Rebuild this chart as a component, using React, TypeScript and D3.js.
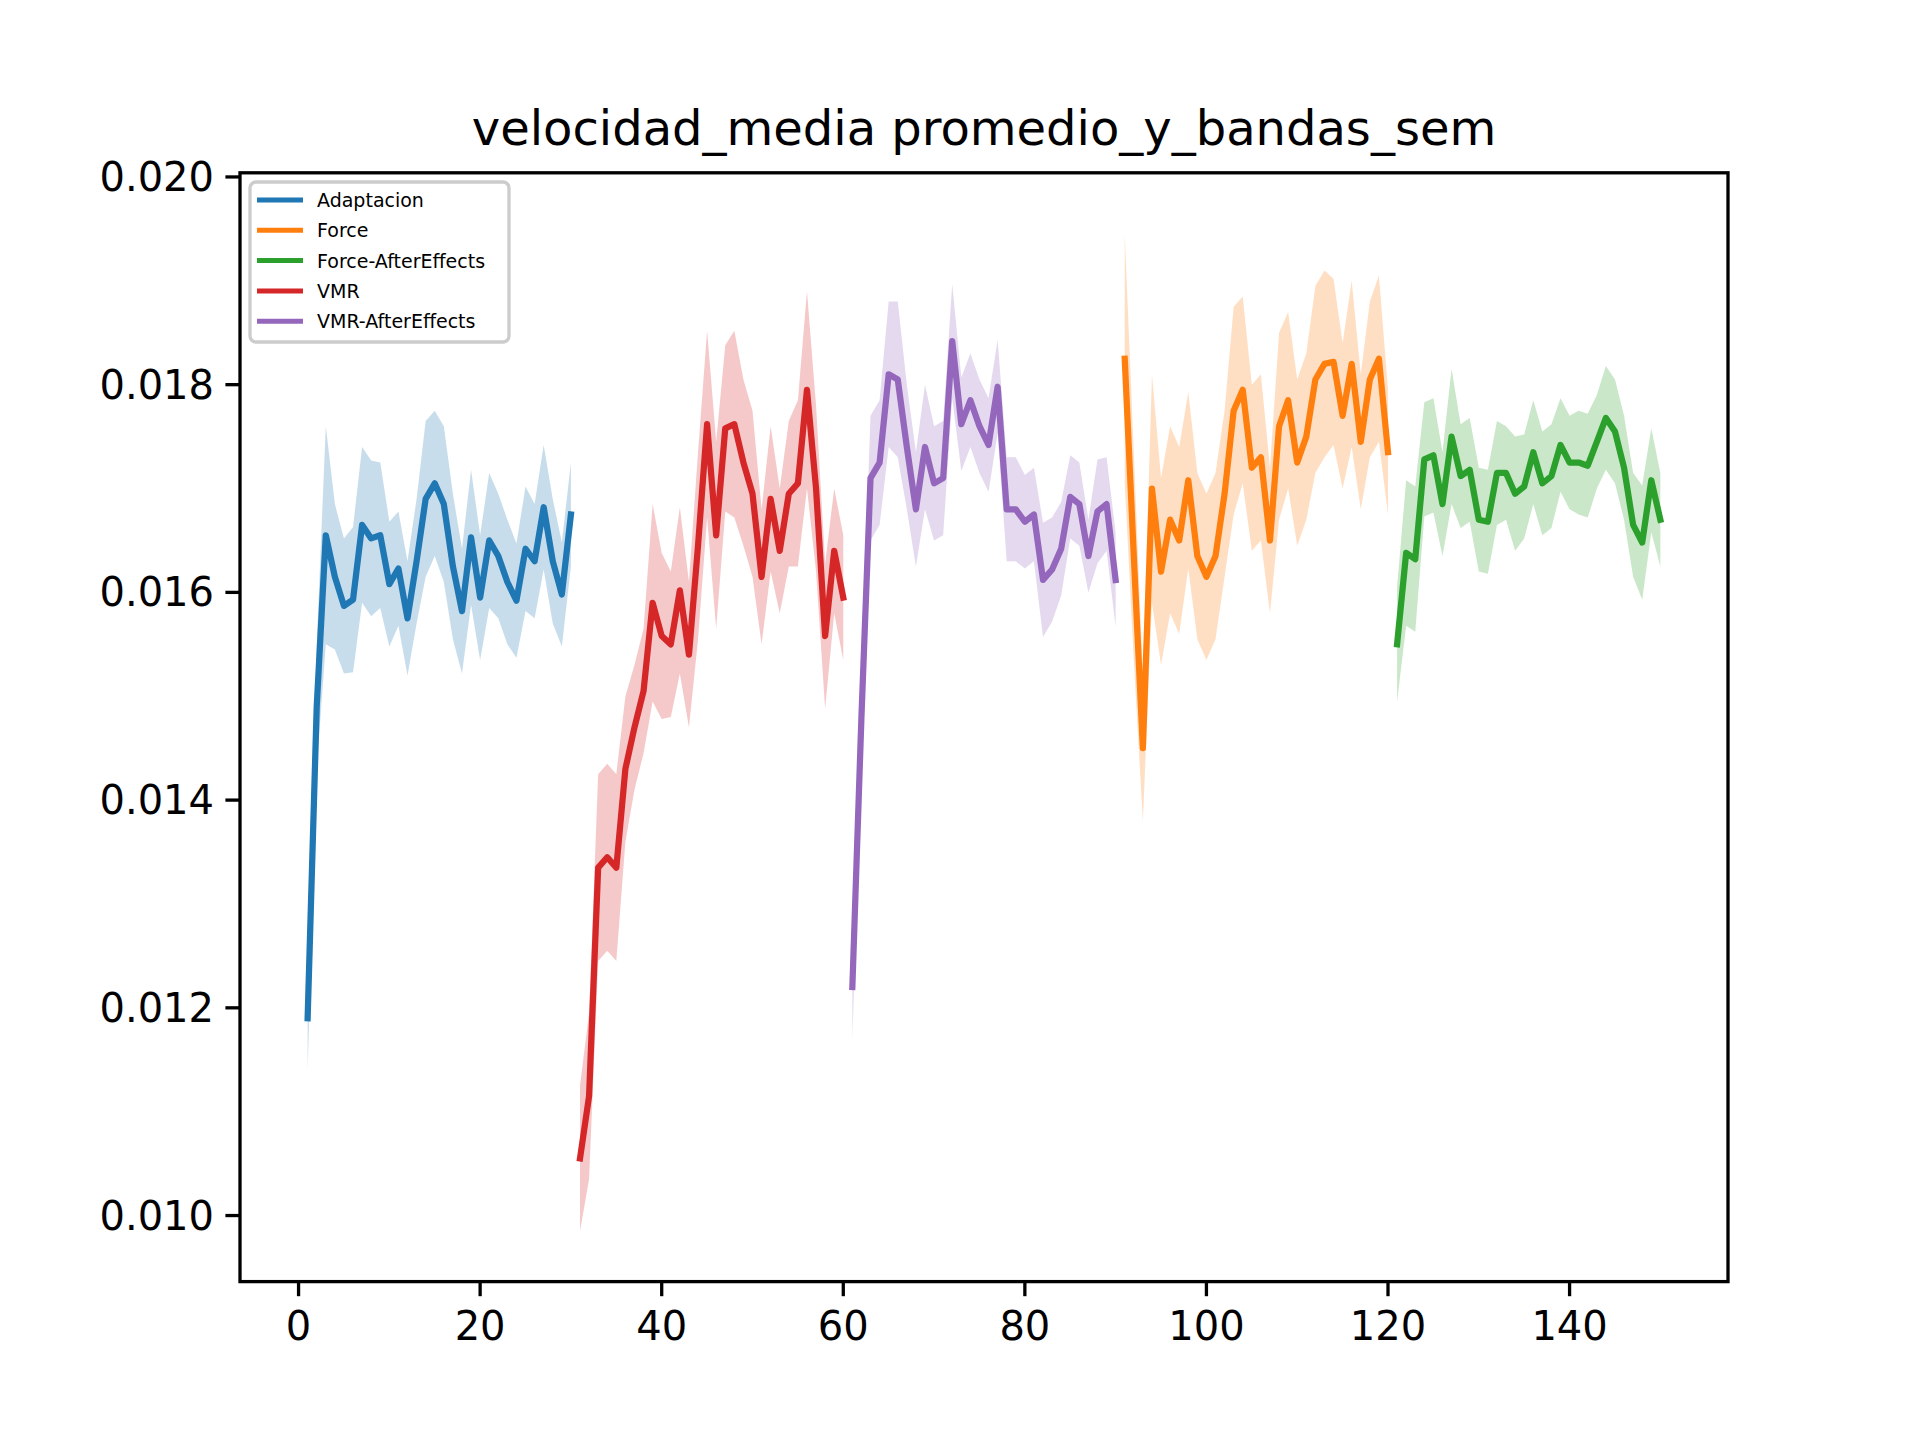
import React from "react";
import * as d3 from "d3";

const adaptMean = [11.9,14.9,16.55,16.15,15.87,15.93,16.65,16.52,16.55,16.08,16.23,15.75,16.3,16.9,17.05,16.85,16.25,15.82,16.53,15.95,16.5,16.35,16.1,15.92,16.42,16.3,16.82,16.3,15.98,16.75];
const adaptSem = [0.5,0.6,1.05,0.7,0.65,0.7,0.75,0.75,0.7,0.6,0.55,0.55,0.6,0.75,0.7,0.75,0.7,0.6,0.65,0.6,0.65,0.6,0.6,0.55,0.6,0.55,0.6,0.6,0.5,0.5];
const vmrMean = [10.55,11.15,13.35,13.45,13.35,14.3,14.7,15.05,15.9,15.58,15.5,16.02,15.4,16.45,17.62,16.55,17.58,17.62,17.25,16.95,16.15,16.9,16.4,16.95,17.05,17.95,17.0,15.58,16.4,15.95];
const vmrSem = [0.7,0.8,0.9,0.9,0.9,0.7,0.6,0.6,0.95,0.8,0.7,0.8,0.7,0.9,0.9,0.9,0.8,0.9,0.8,0.8,0.65,0.7,0.6,0.7,0.8,0.95,0.8,0.7,0.6,0.6];
const vmrAeMean = [12.2,14.8,17.1,17.25,18.1,18.05,17.4,16.8,17.4,17.05,17.1,18.42,17.62,17.85,17.6,17.42,17.98,16.8,16.8,16.68,16.75,16.12,16.22,16.42,16.92,16.85,16.35,16.78,16.85,16.12];
const vmrAeSem = [0.5,0.4,0.6,0.6,0.7,0.75,0.6,0.55,0.6,0.55,0.55,0.55,0.45,0.45,0.45,0.45,0.45,0.5,0.5,0.45,0.45,0.55,0.5,0.45,0.4,0.4,0.35,0.5,0.45,0.45];
const forceMean = [18.25,16.35,14.5,17.0,16.2,16.7,16.5,17.08,16.35,16.15,16.35,16.95,17.75,17.95,17.2,17.3,16.5,17.6,17.85,17.25,17.5,18.05,18.2,18.22,17.7,18.2,17.45,18.05,18.25,17.35];
const forceSem = [1.2,1.0,0.7,1.1,0.9,0.9,0.9,0.85,0.8,0.8,0.8,0.8,1.0,0.9,0.8,0.8,0.7,0.9,0.85,0.8,0.8,0.9,0.9,0.8,0.7,0.8,0.65,0.75,0.8,0.6];
const forceAeMean = [15.5,16.38,16.32,17.28,17.32,16.85,17.5,17.12,17.18,16.7,16.68,17.15,17.15,16.95,17.02,17.35,17.05,17.12,17.42,17.25,17.25,17.22,17.45,17.68,17.55,17.2,16.65,16.48,17.08,16.7];
const forceAeSem = [0.55,0.7,0.7,0.55,0.55,0.5,0.65,0.5,0.5,0.5,0.5,0.5,0.45,0.55,0.5,0.5,0.5,0.5,0.45,0.45,0.5,0.5,0.45,0.5,0.5,0.5,0.5,0.55,0.5,0.45];

const series = [
  { name: "Adaptacion", color: "#1f77b4", start: 1, mean: adaptMean, sem: adaptSem },
  { name: "VMR", color: "#d62728", start: 31, mean: vmrMean, sem: vmrSem },
  { name: "VMR-AfterEffects", color: "#9467bd", start: 61, mean: vmrAeMean, sem: vmrAeSem },
  { name: "Force", color: "#ff7f0e", start: 91, mean: forceMean, sem: forceSem },
  { name: "Force-AfterEffects", color: "#2ca02c", start: 121, mean: forceAeMean, sem: forceAeSem },
];
const legendOrder = ["Adaptacion", "Force", "Force-AfterEffects", "VMR", "VMR-AfterEffects"];
const xTicks = [0, 20, 40, 60, 80, 100, 120, 140];
const yTicks = [0.010, 0.012, 0.014, 0.016, 0.018, 0.020];

export default function App() {
  const L = 240, R = 1728, T = 172.8, B = 1281.6;
  const x = d3.scaleLinear().domain([-6.45, 157.45]).range([L, R]);
  const y = d3.scaleLinear().domain([0.009364, 0.02004]).range([B, T]);
  const font = "DejaVu Sans, sans-serif";
  return (
    <svg width={1920} height={1440} style={{ display: "block", margin: -8 }} fontFamily={font}>
      <rect width={1920} height={1440} fill="white" />
      <defs>
        <clipPath id="c"><rect x={L} y={T} width={R - L} height={B - T} /></clipPath>
      </defs>
      <g clipPath="url(#c)">
        {series.map((s) => {
          const pts = s.mean.map((m, i) => ({ x: s.start + i, m: m / 1000, e: s.sem[i] / 1000 }));
          const area = d3.area<any>().x((d) => x(d.x)).y0((d) => y(d.m - d.e)).y1((d) => y(d.m + d.e));
          const line = d3.line<any>().x((d) => x(d.x)).y((d) => y(d.m));
          return (
            <g key={s.name}>
              <path d={area(pts)!} fill={s.color} opacity={0.25} />
              <path d={line(pts)!} fill="none" stroke={s.color} strokeWidth={6.25} strokeLinejoin="round" strokeLinecap="square" />
            </g>
          );
        })}
      </g>
      <rect x={L} y={T} width={R - L} height={B - T} fill="none" stroke="black" strokeWidth={3.3} />
      {xTicks.map((t) => (
        <g key={t}>
          <line x1={x(t)} x2={x(t)} y1={B} y2={B + 14.6} stroke="black" strokeWidth={3.3} />
          <text x={x(t)} y={B + 58} fontSize={40} textAnchor="middle">{t}</text>
        </g>
      ))}
      {yTicks.map((t) => (
        <g key={t}>
          <line x1={L - 14.6} x2={L} y1={y(t)} y2={y(t)} stroke="black" strokeWidth={3.3} />
          <text x={L - 26} y={y(t) + 14} fontSize={40} textAnchor="end">{t.toFixed(3)}</text>
        </g>
      ))}
      <text x={(L + R) / 2} y={145} fontSize={48} textAnchor="middle">velocidad_media promedio_y_bandas_sem</text>
      <rect x={250} y={182} width={259} height={160} rx={6} fill="white" fillOpacity={0.8} stroke="#cccccc" strokeWidth={3.3} />
      {legendOrder.map((n, i) => {
        const s = series.find((q) => q.name === n)!;
        const yy = 200 + i * 30.3;
        return (
          <g key={n}>
            <line x1={257} x2={303} y1={yy} y2={yy} stroke={s.color} strokeWidth={5} />
            <text x={317} y={yy + 7} fontSize={19}>{n}</text>
          </g>
        );
      })}
    </svg>
  );
}
